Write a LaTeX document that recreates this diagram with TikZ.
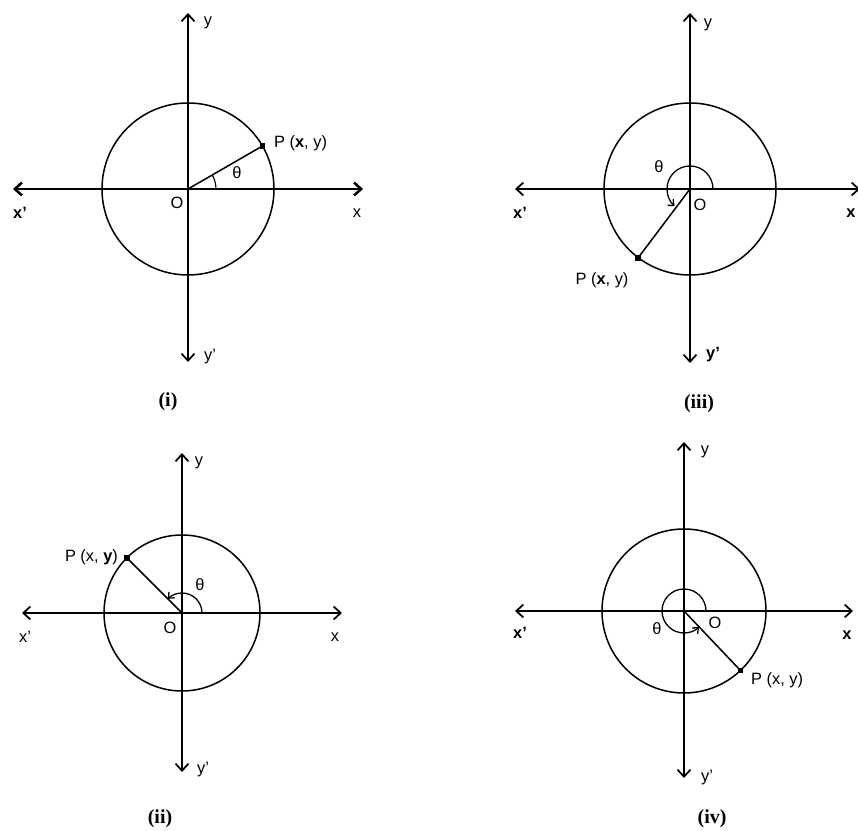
\documentclass[tikz,border=0pt]{standalone}
\usepackage{fontspec}
\setmainfont{Liberation Serif}
\setsansfont{Liberation Sans}
\usetikzlibrary{arrows.meta}

\begin{document}
\begin{tikzpicture}[x=0.03cm, y=0.03cm, font=\sffamily\fontsize{14}{16}\selectfont, line join=round, line cap=round, >={Straight Barb[length=6pt,width=11pt]}]
	\tikzset{axis/.style={<->, line width=1.5pt},
		ring/.style={line width=1.3pt},
		pdot/.style={rectangle, fill, inner sep=0pt, minimum size=5pt},
		turn/.style={->, line width=1.1pt, >={Straight Barb[length=4pt,width=7pt]}},
		caption/.style={font=\rmfamily\bfseries\fontsize{17}{19}\selectfont}}
	\useasboundingbox (0,0) rectangle (858,830);
	\clip (0,0) rectangle (858,830);
	
	% (i)
	\coordinate (O1) at (188,641);
	\coordinate (xl1) at (13,641);
	\coordinate (xr1) at (363,641);
	\coordinate (yt1) at (188,817);
	\coordinate (yb1) at (188,468);
	\draw[axis, line width=2.2pt] (xl1)--(xr1);
	\draw[axis] (yb1)--(yt1);
	\draw[ring] (O1) circle[radius=86];
	\path (O1) ++(30:86) node[pdot] (P1) {};
	\draw[ring] (O1)--(P1.center);
	\draw[line width=1pt] ([shift={(0:28)}]O1) arc[start angle=0, end angle=30, radius=28];
	\node (y1) at (208,807) {y};
	\node (xa1) at (20,617) {\textbf{x'}};
	\node (x1) at (357,617) {x};
	\node (o1) at (177,627) {O};
	\node (ya1) at (210,473) {y'};
	\node (t1) at (237,657) {θ};
	\node[anchor=west] (lp1) at (270,687) {P (\textbf{x}, y)};
	\node[caption] (c1) at (168,428) {(i)};
	
	% (iii)
	\coordinate (O3) at (690,641);
	\coordinate (xl3) at (515,641);
	\coordinate (xr3) at (860,641);
	\coordinate (yt3) at (690,817);
	\coordinate (yb3) at (690,467);
	\draw[axis] (xl3)--(xr3);
	\draw[axis] (yb3)--(yt3);
	\draw[ring] (O3) circle[radius=86];
	\path (O3) ++(233:86) node[pdot] (P3) {};
	\draw[ring] (O3)--(P3.center);
	\draw[turn] ([shift={(0:23)}]O3) arc[start angle=0, end angle=228, radius=23];
	\node (y3) at (708,805) {y};
	\node (xa3) at (520,617) {\textbf{x'}};
	\node (x3) at (851,617) {\textbf{x}};
	\node (o3) at (700,625) {O};
	\node (ya3) at (713,475) {\textbf{y'}};
	\node (t3) at (659,663) {θ};
	\node (lp3) at (602,550) {P (\textbf{x}, y)};
	\node[caption] (c3) at (699,426) {(iii)};
	
	% (ii)
	\coordinate (O2) at (182,217);
	\coordinate (xl2) at (22,217);
	\coordinate (xr2) at (342,217);
	\coordinate (yt2) at (182,377);
	\coordinate (yb2) at (182,58);
	\draw[axis] (xl2)--(xr2);
	\draw[axis] (yb2)--(yt2);
	\draw[ring] (O2) circle[radius=78];
	\path (O2) ++(135:78) node[pdot] (P2) {};
	\draw[ring] (O2)--(P2.center);
	\draw[turn] ([shift={(0:20)}]O2) arc[start angle=0, end angle=135, radius=20];
	\node (y2) at (199,367) {y};
	\node (xa2) at (25,193) {x'};
	\node (x2) at (335,193) {x};
	\node (o2) at (170,202) {O};
	\node (ya2) at (203,60) {y'};
	\node (t2) at (200,245) {θ};
	\node[anchor=east] (lp2) at (122,273) {P (x, \textbf{y})};
	\node[caption] (c2) at (160,11) {(ii)};
	
	% (iv)
	\coordinate (O4) at (684,219);
	\coordinate (xl4) at (515,219);
	\coordinate (xr4) at (853,219);
	\coordinate (yt4) at (684,388);
	\coordinate (yb4) at (684,52);
	\draw[axis] (xl4)--(xr4);
	\draw[axis] (yb4)--(yt4);
	\draw[ring] (O4) circle[radius=82];
	\path (O4) ++(313.5:82) node[pdot] (P4) {};
	\draw[ring] (O4)--(P4.center);
	\draw[turn] ([shift={(0:22)}]O4) arc[start angle=0, end angle=313, radius=22];
	\node (y4) at (705,378) {y};
	\node (xa4) at (520,197) {\textbf{x'}};
	\node (x4) at (847,195) {\textbf{x}};
	\node (o4) at (715,207) {O};
	\node (ya4) at (707,52) {y'};
	\node (t4) at (657,201) {θ};
	\node[anchor=west] (lp4) at (747,150) {P (x, y)};
	\node[caption] (c4) at (712,11) {(iv)};
	
\end{tikzpicture}
\end{document}
